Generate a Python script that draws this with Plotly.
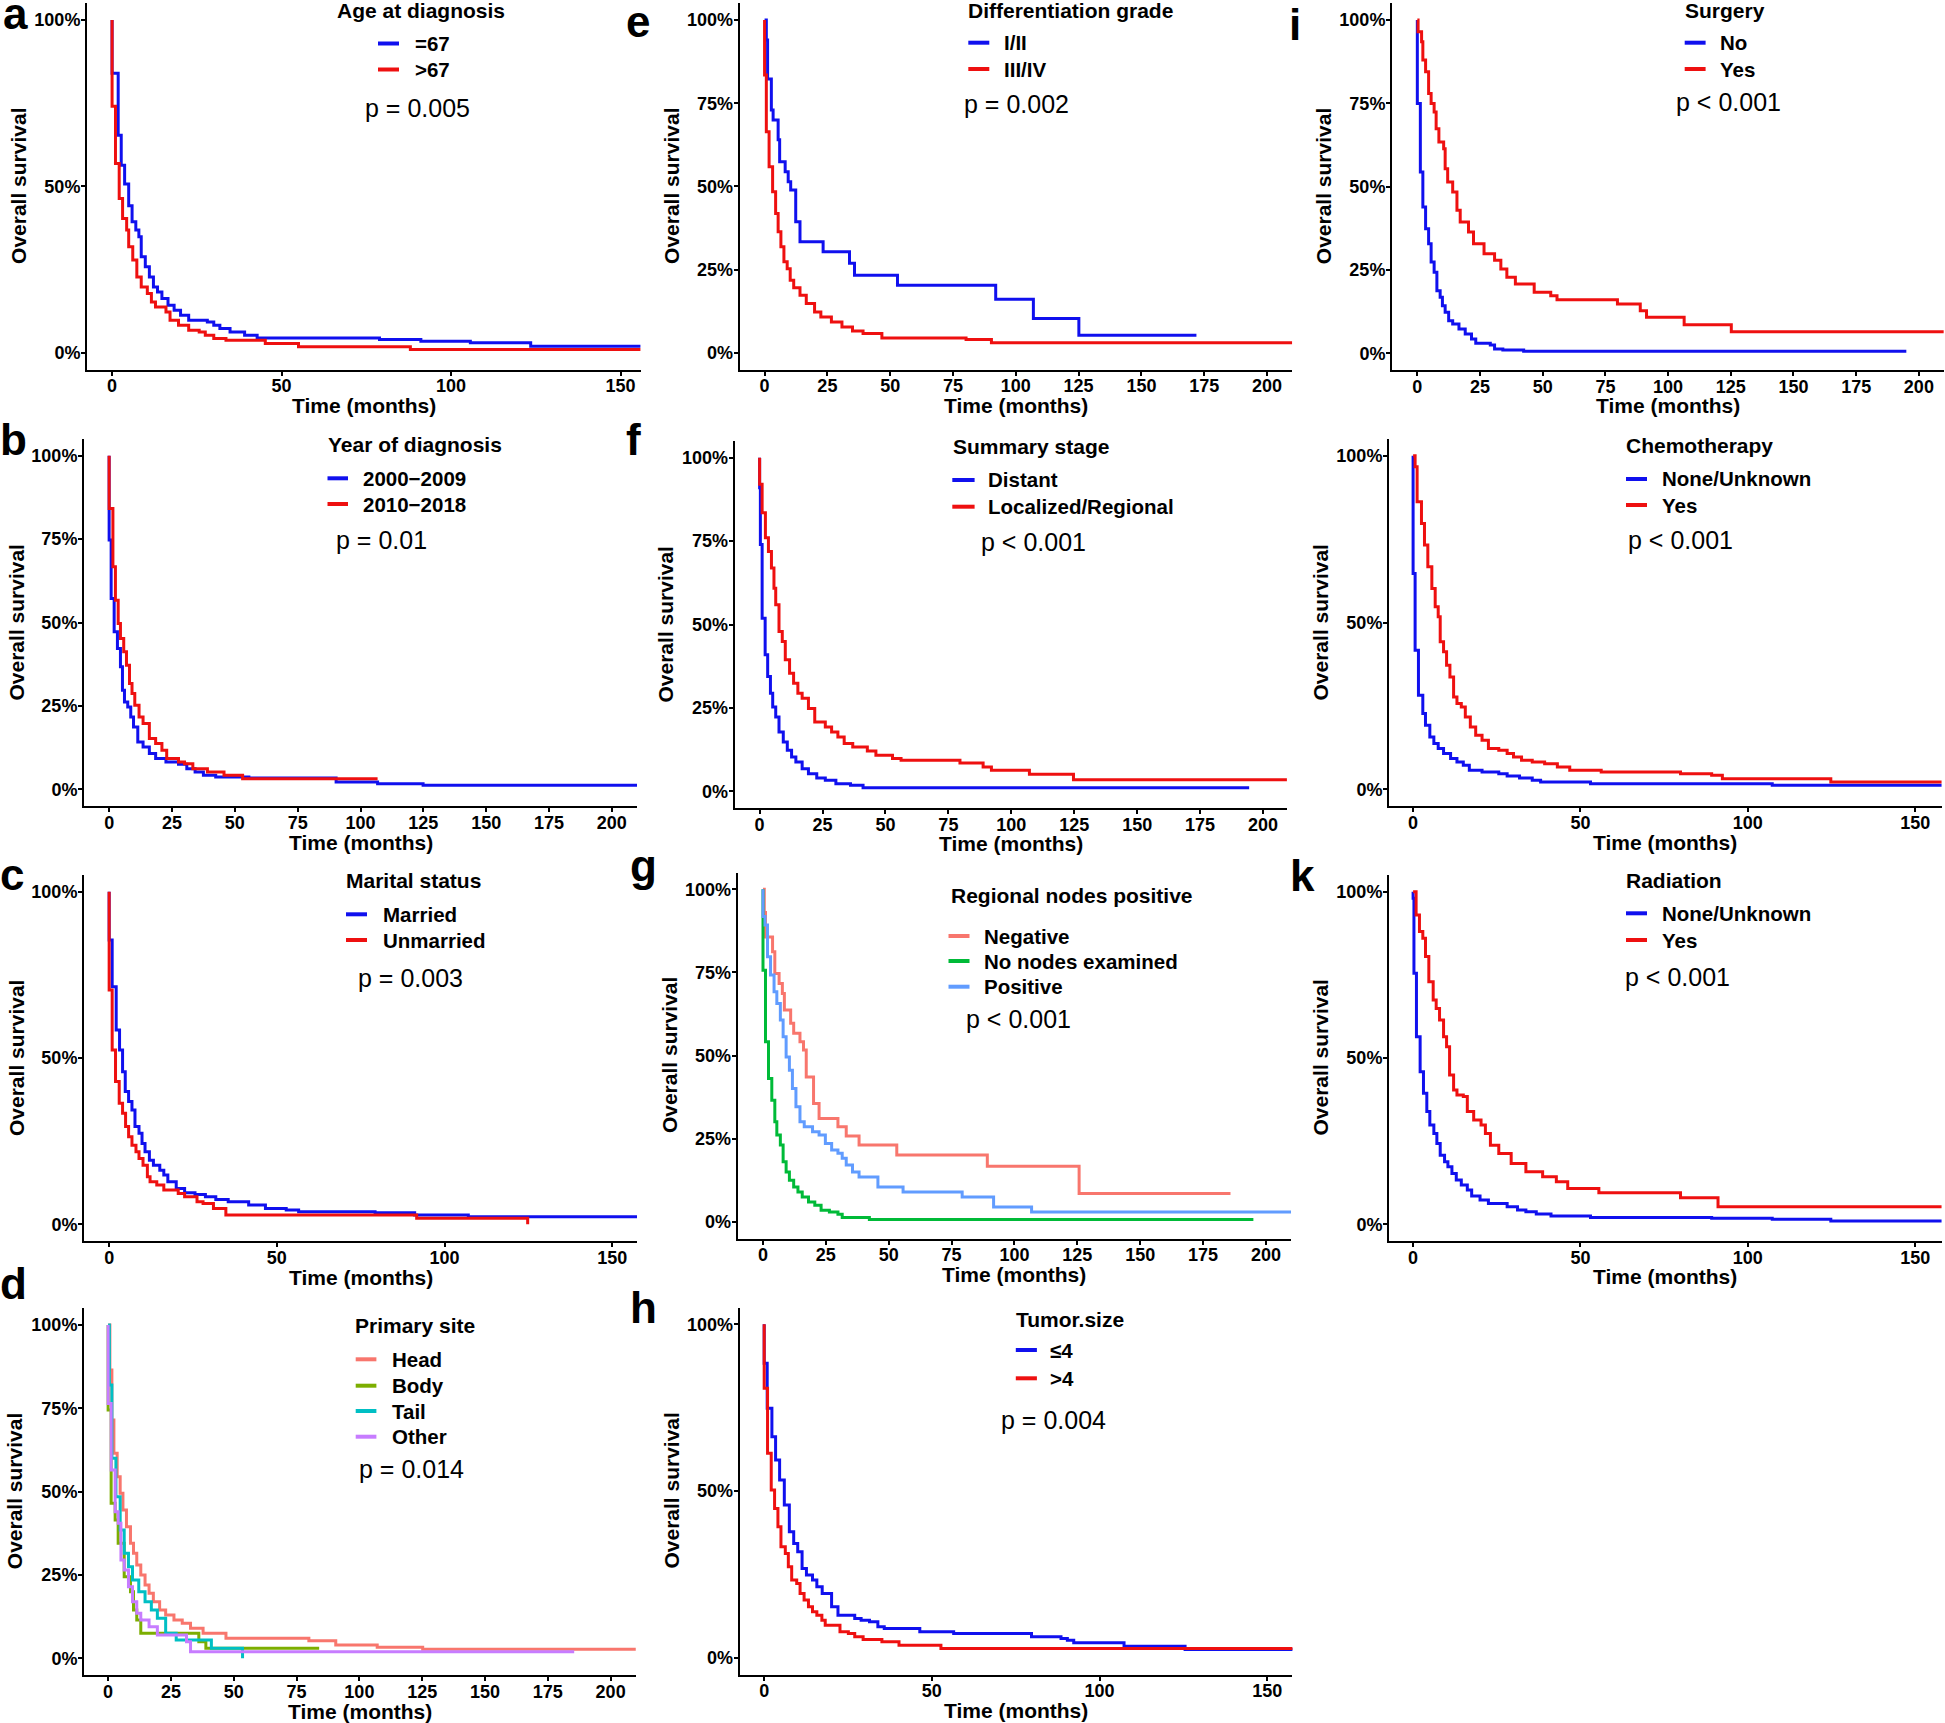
import plotly.graph_objects as go

# ---------------- data ----------------
# a: Age at diagnosis
a_le67_t = [0, 0, 1.8, 2.7, 3.7, 4.9, 5.9, 7.0, 7.9, 8.6, 9.8, 11.0, 12.2, 13.4, 14.7, 16.5, 18.3, 20.2, 22.6, 28.1, 30.0, 31.8, 34.8, 39.1, 42.8, 78.9, 91.1, 105.7, 123.5, 156]
a_le67_s = [1, 0.84, 0.654, 0.564, 0.507, 0.442, 0.394, 0.369, 0.349, 0.289, 0.259, 0.228, 0.198, 0.183, 0.163, 0.143, 0.128, 0.113, 0.098, 0.093, 0.083, 0.073, 0.063, 0.053, 0.045, 0.040, 0.035, 0.030, 0.020, 0.020]
a_gt67_t = [0, 0, 1.0, 2.1, 3.1, 4.3, 4.9, 6.1, 7.3, 8.6, 10.4, 11.6, 12.8, 15.9, 17.1, 19.6, 22.6, 25.7, 27.5, 30.0, 33.6, 45.2, 55.0, 88.0, 156]
a_gt67_s = [1, 0.741, 0.569, 0.464, 0.404, 0.369, 0.319, 0.279, 0.228, 0.198, 0.178, 0.153, 0.138, 0.123, 0.098, 0.083, 0.068, 0.063, 0.053, 0.043, 0.038, 0.028, 0.018, 0.010, 0.010]
a_labels = ["=67", ">67"]

# b: Year of diagnosis
b_0009_t = [0, 0, 0.8, 2.0, 3.3, 4.5, 5.3, 6.1, 7.4, 8.6, 9.7, 11.4, 13.5, 16.0, 18.5, 22.6, 27.6, 30.9, 34.2, 37.5, 42.4, 55.6, 90.3, 106.8, 124.9, 210]
b_0009_s = [1, 0.747, 0.572, 0.472, 0.422, 0.367, 0.297, 0.262, 0.247, 0.217, 0.187, 0.142, 0.127, 0.107, 0.092, 0.082, 0.075, 0.062, 0.052, 0.042, 0.037, 0.034, 0.022, 0.017, 0.012, 0.012]
b_1018_t = [0, 0, 1.5, 2.5, 3.6, 4.5, 5.8, 6.9, 8.1, 9.1, 10.2, 11.9, 13.5, 16.0, 18.5, 21.0, 22.9, 27.6, 30.0, 33.3, 39.1, 45.7, 53.1, 106.8]
b_1018_s = [1, 0.842, 0.667, 0.567, 0.497, 0.452, 0.412, 0.372, 0.317, 0.287, 0.252, 0.217, 0.197, 0.152, 0.137, 0.117, 0.092, 0.082, 0.077, 0.062, 0.052, 0.042, 0.032, 0.032]
b_labels = ["2000\u22122009", "2010\u22122018"]

# c: Marital status
c_mar_t = [0, 0, 0.9, 2.1, 3.1, 4.0, 4.8, 5.8, 6.8, 7.7, 8.9, 9.8, 10.7, 12.0, 13.2, 15.1, 16.3, 17.5, 20.0, 22.5, 25.6, 28.7, 31.8, 35.5, 41.6, 46.6, 52.8, 56.5, 79.3, 91.1, 107.1, 158]
c_mar_s = [1, 0.855, 0.714, 0.584, 0.524, 0.459, 0.399, 0.369, 0.344, 0.294, 0.274, 0.243, 0.218, 0.193, 0.178, 0.163, 0.148, 0.128, 0.108, 0.095, 0.090, 0.083, 0.075, 0.068, 0.058, 0.048, 0.043, 0.038, 0.035, 0.028, 0.023, 0.023]
c_unm_t = [0, 0, 0.9, 1.9, 3.0, 4.0, 4.9, 5.8, 6.8, 8.0, 8.9, 10.1, 11.4, 12.2, 14.2, 16.3, 20.6, 22.5, 26.2, 28.0, 31.1, 34.8, 91.7, 124.8]
c_unm_s = [1, 0.704, 0.524, 0.429, 0.364, 0.334, 0.294, 0.263, 0.238, 0.218, 0.198, 0.178, 0.143, 0.128, 0.118, 0.103, 0.093, 0.083, 0.068, 0.063, 0.048, 0.028, 0.018, 0.0]
c_labels = ["Married", "Unmarried"]

# d: Primary site
d_head_t = [0, 0.7, 1.5, 2.3, 3.6, 4.8, 5.9, 7.3, 8.9, 10.1, 11.4, 13.0, 14.7, 16.3, 18.0, 20.5, 22.9, 26.2, 29.5, 32.8, 37.8, 46.9, 79.9, 90.6, 107.1, 125.2, 210]
d_head_s = [1, 0.865, 0.715, 0.615, 0.545, 0.495, 0.445, 0.395, 0.345, 0.315, 0.28, 0.25, 0.22, 0.195, 0.17, 0.145, 0.13, 0.115, 0.105, 0.09, 0.075, 0.06, 0.053, 0.04, 0.033, 0.027, 0.027]
d_body_t = [0, 0, 1.2, 2.8, 4.0, 6.4, 8.9, 10.1, 11.4, 13.0, 36.1, 38.9, 84]
d_body_s = [1, 0.745, 0.465, 0.415, 0.345, 0.245, 0.2, 0.145, 0.115, 0.075, 0.05, 0.03, 0.03]
d_tail_t = [0, 0.5, 1.5, 3.1, 4.8, 6.4, 8.1, 9.7, 12.2, 14.7, 17.2, 19.6, 22.9, 27.1, 41.1, 53.5]
d_tail_s = [1, 0.82, 0.6, 0.485, 0.385, 0.315, 0.275, 0.235, 0.2, 0.17, 0.145, 0.12, 0.075, 0.055, 0.03, 0.0]
d_other_t = [0, 0, 1.2, 2.8, 4.0, 5.1, 6.4, 8.1, 9.7, 11.4, 13.0, 16.3, 19.6, 31.2, 32.8, 185.5]
d_other_s = [1, 0.765, 0.565, 0.44, 0.405, 0.295, 0.265, 0.215, 0.17, 0.135, 0.115, 0.095, 0.07, 0.05, 0.02, 0.02]
d_labels = ["Head", "Body", "Tail", "Other"]

# e: Differentiation grade
e_12_t = [0, 0.7, 1.2, 2.7, 3.4, 5.4, 6.0, 8.2, 9.4, 10.4, 12.4, 14.1, 23.3, 33.8, 35.8, 52.9, 92.0, 107.0, 125.1, 171.9]
e_12_s = [1, 0.94, 0.823, 0.73, 0.70, 0.64, 0.574, 0.544, 0.514, 0.489, 0.394, 0.334, 0.304, 0.269, 0.233, 0.203, 0.161, 0.103, 0.053, 0.053]
e_34_t = [0, 0, 0.7, 1.8, 3.2, 4.4, 5.4, 6.5, 7.7, 9.0, 10.2, 11.6, 14.1, 16.6, 19.9, 22.4, 26.6, 30.8, 35.0, 39.2, 46.7, 80.2, 90.3, 210]
e_34_s = [1, 0.835, 0.664, 0.559, 0.484, 0.419, 0.364, 0.319, 0.274, 0.253, 0.218, 0.196, 0.173, 0.148, 0.123, 0.108, 0.093, 0.078, 0.066, 0.058, 0.045, 0.040, 0.030, 0.030]
e_labels = ["I/II", "III/IV"]

# f: Summary stage
f_dist_t = [0, 0, 0.3, 1.0, 2.2, 3.2, 4.3, 5.2, 6.4, 7.7, 9.4, 11.0, 12.7, 14.4, 16.9, 19.4, 22.7, 26.1, 30.3, 36.1, 41.1, 194.5]
f_dist_s = [1, 0.91, 0.74, 0.519, 0.409, 0.344, 0.294, 0.253, 0.223, 0.178, 0.148, 0.123, 0.103, 0.088, 0.068, 0.053, 0.040, 0.033, 0.023, 0.018, 0.011, 0.011]
f_loc_t = [0, 0, 1.0, 2.3, 3.5, 4.7, 5.7, 6.4, 7.7, 9.0, 10.2, 11.9, 13.5, 15.2, 16.9, 19.4, 21.9, 26.1, 28.6, 31.1, 33.6, 37.0, 42.8, 46.2, 52.8, 56.2, 79.6, 88.8, 92.1, 107.2, 124.7, 210]
f_loc_s = [1, 0.92, 0.835, 0.76, 0.719, 0.669, 0.609, 0.559, 0.479, 0.449, 0.394, 0.354, 0.324, 0.294, 0.279, 0.248, 0.208, 0.193, 0.178, 0.163, 0.143, 0.133, 0.121, 0.108, 0.098, 0.093, 0.085, 0.073, 0.063, 0.051, 0.035, 0.035]
f_labels = ["Distant", "Localized/Regional"]

# g: Regional nodes positive
g_neg_t = [0, 0.5, 1.0, 3.8, 4.7, 6.4, 7.7, 8.5, 11.0, 12.2, 14.7, 16.1, 17.2, 20.1, 22.3, 29.8, 33.1, 38.2, 53.2, 89.2, 125.7, 185.9]
g_neg_s = [1, 0.93, 0.857, 0.812, 0.747, 0.717, 0.687, 0.637, 0.597, 0.567, 0.542, 0.517, 0.436, 0.356, 0.311, 0.286, 0.258, 0.231, 0.201, 0.167, 0.085, 0.085]
g_none_t = [0, 0, 1.0, 2.2, 3.5, 4.7, 5.5, 6.9, 8.0, 9.2, 10.5, 12.2, 13.9, 15.6, 18.1, 20.6, 23.1, 26.4, 29.8, 31.5, 42.3, 195]
g_none_s = [1, 0.757, 0.542, 0.431, 0.366, 0.301, 0.261, 0.231, 0.181, 0.150, 0.125, 0.105, 0.090, 0.075, 0.060, 0.050, 0.035, 0.030, 0.023, 0.013, 0.007, 0.007]
g_pos_t = [0, 0, 0.8, 1.8, 3.0, 4.4, 5.5, 6.9, 8.0, 9.2, 10.5, 11.7, 13.1, 14.7, 16.4, 19.7, 22.3, 24.8, 27.3, 29.8, 31.5, 33.1, 35.6, 38.2, 45.7, 55.7, 79.2, 91.7, 106.8, 210]
g_pos_s = [1, 0.918, 0.893, 0.797, 0.742, 0.692, 0.657, 0.607, 0.557, 0.496, 0.456, 0.401, 0.346, 0.301, 0.286, 0.271, 0.261, 0.236, 0.216, 0.206, 0.191, 0.171, 0.150, 0.135, 0.105, 0.090, 0.075, 0.045, 0.030, 0.030]
g_labels = ["Negative", "No nodes examined", "Positive"]

# h: Tumor size
h_le4_t = [0, 0, 0.9, 2.3, 3.4, 4.6, 6.0, 7.5, 8.8, 10.0, 11.3, 12.6, 14.4, 15.7, 17.3, 20.1, 22.0, 27.0, 28.9, 31.4, 33.9, 35.8, 46.4, 56.5, 79.7, 88.5, 90.4, 92.3, 107.3, 125.5, 158]
h_le4_s = [1, 0.883, 0.748, 0.663, 0.593, 0.533, 0.458, 0.378, 0.343, 0.318, 0.268, 0.248, 0.233, 0.213, 0.193, 0.153, 0.128, 0.118, 0.113, 0.108, 0.093, 0.088, 0.078, 0.073, 0.063, 0.058, 0.053, 0.045, 0.035, 0.025, 0.025]
h_gt4_t = [0, 0, 1.0, 2.1, 3.1, 4.1, 5.0, 6.3, 7.2, 8.2, 9.7, 10.7, 11.9, 13.2, 14.4, 15.7, 17.2, 18.2, 22.6, 25.1, 27.0, 29.5, 35.1, 40.2, 52.7, 158]
h_gt4_s = [1, 0.808, 0.613, 0.503, 0.448, 0.393, 0.333, 0.313, 0.273, 0.233, 0.223, 0.193, 0.173, 0.153, 0.138, 0.128, 0.113, 0.098, 0.078, 0.073, 0.063, 0.055, 0.048, 0.038, 0.028, 0.028]
h_labels = ["\u22644", ">4"]

# i: Surgery
i_no_t = [0, 0, 1.2, 2.2, 3.3, 4.5, 5.5, 6.7, 7.8, 9.1, 10.0, 11.1, 12.5, 14.1, 16.6, 19.1, 21.6, 23.3, 29.1, 30.8, 34.1, 42.4, 195]
i_no_s = [1, 0.75, 0.544, 0.439, 0.374, 0.329, 0.274, 0.243, 0.188, 0.168, 0.143, 0.123, 0.098, 0.088, 0.073, 0.058, 0.043, 0.030, 0.025, 0.013, 0.010, 0.006, 0.006]
i_yes_t = [0, 0.3, 1.7, 2.2, 3.3, 4.5, 5.5, 6.7, 7.5, 8.6, 10.5, 11.1, 12.1, 14.1, 15.8, 17.1, 20.4, 22.4, 26.6, 30.8, 33.3, 35.7, 39.1, 46.6, 53.2, 55.7, 79.8, 88.9, 91.4, 106.4, 125.2, 210]
i_yes_s = [1, 0.965, 0.935, 0.88, 0.845, 0.78, 0.75, 0.724, 0.674, 0.634, 0.614, 0.554, 0.514, 0.484, 0.429, 0.394, 0.364, 0.329, 0.299, 0.279, 0.253, 0.228, 0.208, 0.183, 0.173, 0.161, 0.148, 0.128, 0.108, 0.086, 0.065, 0.065]
i_labels = ["No", "Yes"]

# j: Chemotherapy
j_none_t = [0, 0, 0.6, 1.6, 2.9, 3.7, 5.0, 6.2, 7.5, 9.1, 11.2, 13.1, 15.0, 16.8, 20.6, 25.6, 28.1, 31.8, 35.6, 38.1, 53.0, 107.3, 158]
j_none_s = [1, 0.647, 0.417, 0.282, 0.227, 0.192, 0.157, 0.137, 0.122, 0.107, 0.092, 0.082, 0.072, 0.057, 0.052, 0.047, 0.040, 0.034, 0.027, 0.022, 0.017, 0.012, 0.012]
j_yes_t = [0, 0.6, 1.2, 2.5, 3.4, 4.4, 5.6, 6.6, 7.5, 8.1, 9.1, 10.0, 11.0, 12.1, 13.1, 14.4, 15.6, 17.1, 18.7, 20.6, 22.5, 25.6, 28.1, 30.0, 32.4, 35.6, 39.3, 43.1, 46.8, 56.2, 79.9, 89.2, 92.4, 124.8, 158]
j_yes_s = [1, 0.967, 0.862, 0.797, 0.732, 0.667, 0.602, 0.547, 0.517, 0.442, 0.412, 0.372, 0.337, 0.277, 0.257, 0.247, 0.217, 0.187, 0.162, 0.147, 0.122, 0.117, 0.107, 0.097, 0.087, 0.082, 0.077, 0.067, 0.057, 0.052, 0.047, 0.042, 0.032, 0.022, 0.022]
j_labels = ["None/Unknown", "Yes"]

# k: Radiation
k_none_t = [0, 0, 0.25, 1.0, 2.1, 3.1, 4.1, 5.0, 6.2, 7.1, 8.1, 9.4, 10.4, 11.6, 12.9, 14.4, 16.2, 17.5, 20.0, 22.5, 28.1, 31.2, 33.7, 36.8, 41.2, 53.0, 89.2, 107.3, 124.8, 158]
k_none_s = [1, 0.98, 0.755, 0.564, 0.459, 0.394, 0.339, 0.299, 0.273, 0.243, 0.208, 0.188, 0.173, 0.153, 0.133, 0.118, 0.103, 0.085, 0.073, 0.063, 0.053, 0.043, 0.038, 0.031, 0.025, 0.021, 0.018, 0.015, 0.010, 0.010]
k_yes_t = [0, 0.9, 1.9, 2.9, 3.7, 4.7, 6.0, 6.9, 7.9, 9.1, 10.0, 10.9, 12.1, 13.1, 15.0, 16.2, 18.1, 20.3, 21.6, 23.1, 25.6, 29.3, 33.7, 38.7, 42.8, 46.2, 55.5, 79.9, 91.1, 158]
k_yes_s = [1, 0.93, 0.88, 0.86, 0.805, 0.729, 0.674, 0.649, 0.614, 0.564, 0.534, 0.449, 0.404, 0.389, 0.384, 0.339, 0.314, 0.299, 0.273, 0.238, 0.213, 0.183, 0.158, 0.143, 0.128, 0.108, 0.095, 0.080, 0.053, 0.053]
k_labels = ["None/Unknown", "Yes"]

x_ticks_150 = [0, 50, 100, 150]
x_ticks_200 = [0, 25, 50, 75, 100, 125, 150, 175, 200]
y_ticks_3 = [0, 0.5, 1]
y_ticks_5 = [0, 0.25, 0.5, 0.75, 1]

# ---------------- styling / layout ----------------
W, H = 1945, 1723
FONT = "Liberation Sans, Arial, Helvetica, sans-serif"
BLUE, RED = "#1010EE", "#EE1010"
HUE4 = ["#F8766D", "#7CAE00", "#00BFC4", "#C77CFF"]
HUE3 = ["#F8766D", "#00BA38", "#619CFF"]
TICK_SIZE = 18
AXT_SIZE = 21
LEG_TITLE_SIZE = 21
LEG_LABEL_SIZE = 20.5
P_SIZE = 25
LETTER_SIZE = 44

panels = [
    dict(letter="a", box=(87, 640.5, 3.4, 369.5), xr=[-7.4, 155.9], xt=x_ticks_150, yt=y_ticks_3,
         curves=[(a_le67_t, a_le67_s, BLUE), (a_gt67_t, a_gt67_s, RED)], labels=a_labels,
         title="Age at diagnosis", title_pos=(421, 10), title_center=True,
         key_x=(378, 399), key_y=[43.5, 69.5], label_x=413, p="p = 0.005", p_pos=(417.5, 108),
         letter_pos=(1, 13.5), ylab_x=18.5, xlab_y=405),
    dict(letter="b", box=(84, 637, 439, 806), xr=[-10, 210], xt=x_ticks_200, yt=y_ticks_5,
         curves=[(b_0009_t, b_0009_s, BLUE), (b_1018_t, b_1018_s, RED)], labels=b_labels,
         title="Year of diagnosis", title_pos=(325.5, 445), title_center=False,
         key_x=(327.5, 348), key_y=[478.3, 504], label_x=360.7, p="p = 0.01", p_pos=(381.5, 540),
         letter_pos=(-2, 439), ylab_x=16, xlab_y=842),
    dict(letter="c", box=(84, 637, 875, 1241), xr=[-7.5, 157.4], xt=x_ticks_150, yt=y_ticks_3,
         curves=[(c_mar_t, c_mar_s, BLUE), (c_unm_t, c_unm_s, RED)], labels=c_labels,
         title="Marital status", title_pos=(344, 880.7), title_center=False,
         key_x=(346, 367), key_y=[914.3, 940], label_x=380.6, p="p = 0.003", p_pos=(410, 978.3),
         letter_pos=(-2, 874.6), ylab_x=16, xlab_y=1277.7),
    dict(letter="d", box=(84, 636, 1308.4, 1675), xr=[-9.6, 210.1], xt=x_ticks_200, yt=y_ticks_5,
         curves=[(d_head_t, d_head_s, HUE4[0]), (d_body_t, d_body_s, HUE4[1]),
                 (d_tail_t, d_tail_s, HUE4[2]), (d_other_t, d_other_s, HUE4[3])], labels=d_labels,
         title="Primary site", title_pos=(353, 1325.7), title_center=False,
         key_x=(355.7, 376.4), key_y=[1359.3, 1385.7, 1411, 1436.7], label_x=389.7,
         p="p = 0.014", p_pos=(411, 1469),
         letter_pos=(-2, 1283), ylab_x=14.5, xlab_y=1711.7),
    dict(letter="e", box=(739.7, 1292.4, 3.4, 369.5), xr=[-9.9, 210.1], xt=x_ticks_200, yt=y_ticks_5,
         curves=[(e_12_t, e_12_s, BLUE), (e_34_t, e_34_s, RED)], labels=e_labels,
         title="Differentiation grade", title_pos=(966.2, 10), title_center=False,
         key_x=(968.3, 989.3), key_y=[42.7, 69], label_x=1002, p="p = 0.002", p_pos=(1016.3, 104),
         letter_pos=(624, 21.6), ylab_x=671.5, xlab_y=406),
    dict(letter="f", box=(734.7, 1286.9, 441, 808), xr=[-9.9, 209.5], xt=x_ticks_200, yt=y_ticks_5,
         curves=[(f_dist_t, f_dist_s, BLUE), (f_loc_t, f_loc_s, RED)], labels=f_labels,
         title="Summary stage", title_pos=(950.6, 447), title_center=False,
         key_x=(952.3, 974.6), key_y=[480, 506.7], label_x=986, p="p < 0.001", p_pos=(1033, 541.7),
         letter_pos=(624, 439), ylab_x=665, xlab_y=843.3),
    dict(letter="g", box=(737.6, 1291.1, 872.7, 1238.5), xr=[-10.1, 210], xt=x_ticks_200, yt=y_ticks_5,
         curves=[(g_neg_t, g_neg_s, HUE3[0]), (g_none_t, g_none_s, HUE3[1]), (g_pos_t, g_pos_s, HUE3[2])],
         labels=g_labels,
         title="Regional nodes positive", title_pos=(949.3, 895.7), title_center=False,
         key_x=(948.5, 969.5), key_y=[936, 961, 986.7], label_x=981.8, p="p < 0.001", p_pos=(1018, 1019.3),
         letter_pos=(628, 865.6), ylab_x=669.5, xlab_y=1274.3),
    dict(letter="h", box=(739.7, 1292.4, 1307.6, 1674.5), xr=[-7.3, 157.5], xt=x_ticks_150, yt=y_ticks_3,
         curves=[(h_le4_t, h_le4_s, BLUE), (h_gt4_t, h_gt4_s, RED)], labels=h_labels,
         title="Tumor.size", title_pos=(1013.7, 1319.3), title_center=False,
         key_x=(1015.8, 1036.9), key_y=[1350, 1378.3], label_x=1048.2, p="p = 0.004", p_pos=(1053.5, 1420),
         letter_pos=(628, 1307.5), ylab_x=671.5, xlab_y=1710.7),
    dict(letter="i", box=(1392, 1943.7, 3.4, 370), xr=[-10.1, 209.9], xt=x_ticks_200, yt=y_ticks_5,
         curves=[(i_no_t, i_no_s, BLUE), (i_yes_t, i_yes_s, RED)], labels=i_labels,
         title="Surgery", title_pos=(1682.6, 10), title_center=False,
         key_x=(1684.7, 1705.6), key_y=[42.7, 69], label_x=1718, p="p < 0.001", p_pos=(1728.7, 101.7),
         letter_pos=(1287, 24.5), ylab_x=1323.5, xlab_y=406),
    dict(letter="", box=(1389, 1941.6, 439, 806), xr=[-7.2, 157.9], xt=x_ticks_150, yt=y_ticks_3,
         curves=[(j_none_t, j_none_s, BLUE), (j_yes_t, j_yes_s, RED)], labels=j_labels,
         title="Chemotherapy", title_pos=(1624, 445.7), title_center=False,
         key_x=(1626, 1647), key_y=[479, 505], label_x=1659.7, p="p < 0.001", p_pos=(1680, 540),
         letter_pos=(1287, 439), ylab_x=1320, xlab_y=842.3),
    dict(letter="k", box=(1389, 1941.6, 875, 1241), xr=[-7.2, 157.9], xt=x_ticks_150, yt=y_ticks_3,
         curves=[(k_none_t, k_none_s, BLUE), (k_yes_t, k_yes_s, RED)], labels=k_labels,
         title="Radiation", title_pos=(1624, 880.7), title_center=False,
         key_x=(1626, 1647), key_y=[913.3, 940], label_x=1659.7, p="p < 0.001", p_pos=(1677.4, 976.7),
         letter_pos=(1288, 875.5), ylab_x=1319.5, xlab_y=1276.7),
]


def px(x):
    return x / W


def py(y):
    return 1 - y / H


fig = go.Figure()
annotations = []
shapes = []
layout_axes = {}

for idx, p in enumerate(panels):
    sfx = "" if idx == 0 else str(idx + 1)
    xa, ya = "x" + sfx, "y" + sfx
    left, right, top, bottom = p["box"]
    for t, s, col in p["curves"]:
        fig.add_trace(go.Scatter(x=t, y=s, mode="lines", line=dict(color=col, width=3, shape="hv"),
                                 xaxis=xa, yaxis=ya, showlegend=False, hoverinfo="skip"))
    tickfont = dict(family=FONT, size=TICK_SIZE, color="black", weight="bold")
    common = dict(showline=True, linecolor="black", linewidth=2, ticks="outside", ticklen=4,
                  tickwidth=1.5, tickcolor="black", showgrid=False, zeroline=False,
                  tickfont=tickfont, fixedrange=True)
    layout_axes["xaxis" + sfx] = dict(domain=[px(left), px(right)], range=p["xr"], anchor=ya,
                                      tickvals=p["xt"], ticktext=[str(v) for v in p["xt"]],
                                      ticklabelstandoff=-5, **common)
    layout_axes["yaxis" + sfx] = dict(domain=[py(bottom), py(top)], range=[-0.05, 1.05], anchor=xa,
                                      tickvals=p["yt"], ticktext=[f"{int(round(v*100))}%" for v in p["yt"]],
                                      ticklabelstandoff=-3, **common)
    cx = (left + right) / 2
    cy = (top + bottom) / 2
    # axis titles
    annotations.append(dict(text="Time (months)", x=px(cx), y=py(p["xlab_y"]), xref="paper", yref="paper",
                            xanchor="center", yanchor="middle", showarrow=False,
                            font=dict(family=FONT, size=AXT_SIZE, color="black", weight="bold")))
    annotations.append(dict(text="Overall survival", x=px(p["ylab_x"]), y=py(cy), xref="paper", yref="paper",
                            xanchor="center", yanchor="middle", showarrow=False, textangle=-90,
                            font=dict(family=FONT, size=AXT_SIZE, color="black", weight="bold")))
    # legend title
    tx, ty = p["title_pos"]
    annotations.append(dict(text=p["title"], x=px(tx), y=py(ty), xref="paper", yref="paper",
                            xanchor="center" if p["title_center"] else "left", yanchor="middle",
                            showarrow=False,
                            font=dict(family=FONT, size=LEG_TITLE_SIZE, color="black", weight="bold")))
    # legend keys + labels
    kx0, kx1 = p["key_x"]
    for (t, s, col), lab, ky in zip(p["curves"], p["labels"], p["key_y"]):
        shapes.append(dict(type="line", xref="paper", yref="paper", x0=px(kx0), x1=px(kx1),
                           y0=py(ky), y1=py(ky), line=dict(color=col, width=4)))
        annotations.append(dict(text=lab, x=px(p["label_x"]), y=py(ky), xref="paper", yref="paper",
                                xanchor="left", yanchor="middle", showarrow=False,
                                font=dict(family=FONT, size=LEG_LABEL_SIZE, color="black", weight="bold")))
    # p-value
    annotations.append(dict(text=p["p"], x=px(p["p_pos"][0]), y=py(p["p_pos"][1]), xref="paper", yref="paper",
                            xanchor="center", yanchor="middle", showarrow=False,
                            font=dict(family=FONT, size=P_SIZE, color="black")))
    # panel letter
    if p["letter"]:
        lx, ly = p["letter_pos"]
        annotations.append(dict(text=p["letter"], x=px(lx), y=py(ly), xref="paper", yref="paper",
                                xanchor="left", yanchor="middle", showarrow=False,
                                font=dict(family=FONT, size=LETTER_SIZE, color="black", weight="bold")))

fig.update_layout(
    width=W, height=H,
    margin=dict(l=0, r=0, t=0, b=0),
    paper_bgcolor="white", plot_bgcolor="white",
    annotations=annotations, shapes=shapes,
    **layout_axes,
)

fig.write_html("out.html", config={"displayModeBar": False},
               post_script="document.body.style.margin='0px';document.body.style.overflow='hidden';")
